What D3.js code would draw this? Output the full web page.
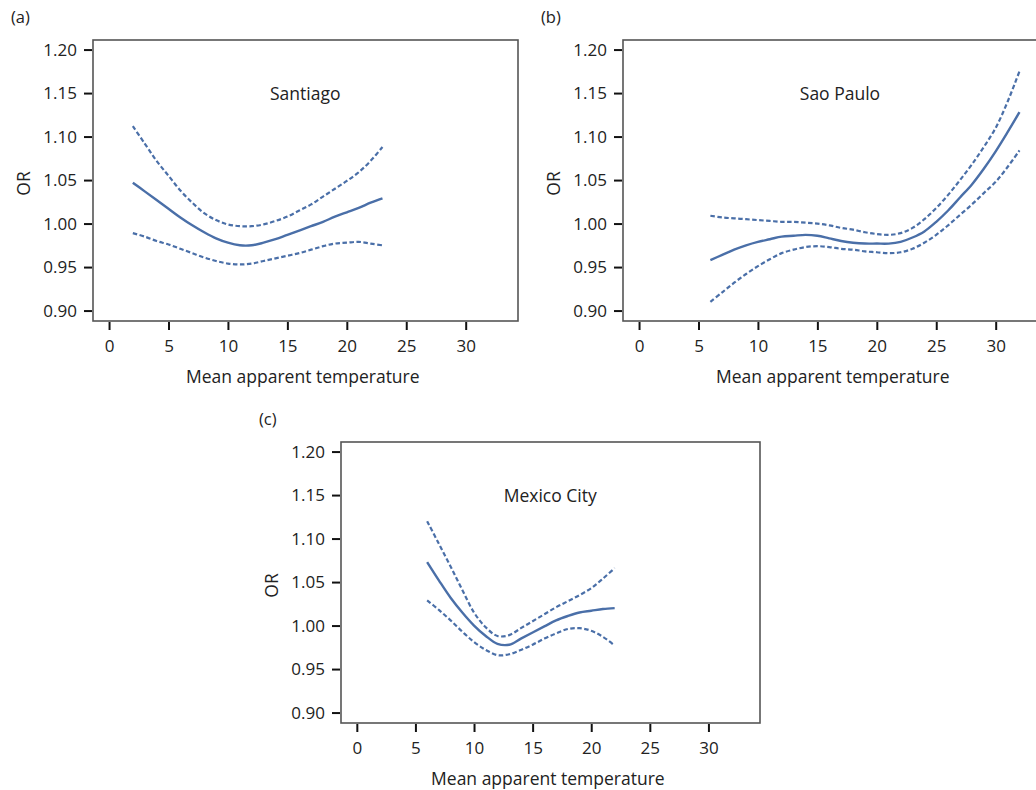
<!DOCTYPE html>
<html>
<head>
<meta charset="utf-8">
<script src="https://cdn.jsdelivr.net/npm/d3@7"></script>
<style>
  body { margin: 0; background: #fff; }
  svg text { font-family: "Open Sans", sans-serif; fill: #222; }
</style>
</head>
<body>
<div id="chart"></div>
<script>
// shared axis settings
const xTicks = [0, 5, 10, 15, 20, 25, 30];
const yTicks = [0.90, 0.95, 1.00, 1.05, 1.10, 1.15, 1.20];

// Santiago
const santiagoTemp = d3.range(2, 24);
const santiagoOR = [1.047, 1.037, 1.027, 1.017, 1.007, 0.998, 0.990, 0.983, 0.978, 0.975, 0.975,
  0.978, 0.982, 0.987, 0.992, 0.997, 1.002, 1.008, 1.013, 1.018, 1.024, 1.029];
const santiagoUpper = [1.112, 1.092, 1.072, 1.055, 1.038, 1.024, 1.012, 1.004, 0.999, 0.997, 0.997,
  0.999, 1.003, 1.008, 1.015, 1.022, 1.031, 1.040, 1.049, 1.059, 1.072, 1.088];
const santiagoLower = [0.989, 0.985, 0.980, 0.976, 0.971, 0.966, 0.961, 0.957, 0.954, 0.953, 0.954,
  0.957, 0.960, 0.963, 0.966, 0.970, 0.974, 0.977, 0.978, 0.979, 0.977, 0.975];

// Sao Paulo
const saoPauloTemp = d3.range(6, 33);
const saoPauloOR = [0.958, 0.964, 0.970, 0.975, 0.979, 0.982, 0.985, 0.986, 0.987, 0.986, 0.983,
  0.980, 0.978, 0.977, 0.977, 0.977, 0.979, 0.984, 0.991, 1.002, 1.015, 1.030, 1.045, 1.063,
  1.083, 1.105, 1.128];
const saoPauloUpper = [1.009, 1.007, 1.006, 1.005, 1.004, 1.003, 1.002, 1.002, 1.001, 1.000, 0.998,
  0.995, 0.993, 0.990, 0.988, 0.987, 0.989, 0.995, 1.005, 1.018, 1.033, 1.050, 1.068, 1.088,
  1.110, 1.140, 1.175];
const saoPauloLower = [0.910, 0.921, 0.932, 0.942, 0.951, 0.959, 0.966, 0.970, 0.973, 0.974, 0.973,
  0.971, 0.970, 0.968, 0.967, 0.966, 0.967, 0.971, 0.978, 0.987, 0.998, 1.010, 1.022, 1.035,
  1.048, 1.065, 1.084];

// Mexico City
const mexicoTemp = d3.range(6, 23);
const mexicoOR = [1.073, 1.052, 1.032, 1.015, 1.000, 0.988, 0.979, 0.978, 0.985, 0.992, 0.999,
  1.006, 1.011, 1.015, 1.017, 1.019, 1.020];
const mexicoUpper = [1.120, 1.094, 1.068, 1.041, 1.015, 0.998, 0.988, 0.989, 0.997, 1.005, 1.013,
  1.021, 1.028, 1.035, 1.043, 1.054, 1.066];
const mexicoLower = [1.029, 1.018, 1.006, 0.993, 0.981, 0.972, 0.966, 0.967, 0.972, 0.978, 0.985,
  0.991, 0.996, 0.997, 0.994, 0.987, 0.977];

const panels = [
  { tag: '(a)', city: 'Santiago', temp: santiagoTemp, or: santiagoOR, up: santiagoUpper, lo: santiagoLower,
    left: 93, top: 40, width: 425, height: 281 },
  { tag: '(b)', city: 'Sao Paulo', temp: saoPauloTemp, or: saoPauloOR, up: saoPauloUpper, lo: saoPauloLower,
    left: 623, top: 40, width: 425, height: 281 },
  { tag: '(c)', city: 'Mexico City', temp: mexicoTemp, or: mexicoOR, up: mexicoUpper, lo: mexicoLower,
    left: 341, top: 442, width: 419, height: 281 }
];

const blue = '#4a6fa8';

const svg = d3.select('#chart').append('svg')
  .attr('width', 1036)
  .attr('height', 790);

panels.forEach((p) => {
  const x = d3.scaleLinear().domain([-1.35, 34.4]).range([0, p.width]);
  const y = d3.scaleLinear().domain([0.888, 1.211]).range([p.height, 0]);

  const g = svg.append('g')
    .attr('transform', 'translate(' + p.left + ',' + p.top + ')');

  // frame
  g.append('rect')
    .attr('width', p.width)
    .attr('height', p.height)
    .attr('fill', 'none')
    .attr('stroke', '#555')
    .attr('stroke-width', 1.6);

  // y axis
  const yAxis = g.append('g')
    .attr('transform', 'translate(-1,0)')
    .call(d3.axisLeft(y).tickValues(yTicks).tickFormat(d3.format('.2f')).tickSize(8).tickPadding(7));
  yAxis.select('.domain').remove();
  yAxis.selectAll('line').attr('stroke', '#111').attr('stroke-width', 2);
  yAxis.selectAll('text').style('font-size', '17px').attr('fill', '#222');

  // x axis
  const xAxis = g.append('g')
    .attr('transform', 'translate(0,' + (p.height + 1) + ')')
    .call(d3.axisBottom(x).tickValues(xTicks).tickSize(8).tickPadding(10));
  xAxis.select('.domain').remove();
  xAxis.selectAll('line').attr('stroke', '#111').attr('stroke-width', 2);
  xAxis.selectAll('text').style('font-size', '17px').attr('fill', '#222');

  // labels
  g.append('text')
    .attr('x', x(16.3))
    .attr('y', p.height + 62)
    .attr('text-anchor', 'middle')
    .style('font-size', '17.5px')
    .text('Mean apparent temperature');

  g.append('text')
    .attr('transform', 'translate(' + -63 + ',' + (p.height / 2 + 3) + ') rotate(-90)')
    .attr('text-anchor', 'middle')
    .style('font-size', '17.5px')
    .text('OR');

  g.append('text')
    .attr('x', -82)
    .attr('y', -17)
    .style('font-size', '16.5px')
    .text(p.tag);

  g.append('text')
    .attr('x', p.city === 'Sao Paulo' ? x(16.9) : x(16.5))
    .attr('y', y(1.1425))
    .attr('text-anchor', 'middle')
    .style('font-size', '17.5px')
    .text(p.city);

  // curves
  const line = (vals) => d3.line()
    .x((d, i) => x(p.temp[i]))
    .y((d) => y(d))
    .curve(d3.curveCatmullRom.alpha(0.5))(vals);

  [p.up, p.lo].forEach((vals) => {
    g.append('path')
      .attr('d', line(vals))
      .attr('fill', 'none')
      .attr('stroke', blue)
      .attr('stroke-width', 2.2)
      .attr('stroke-dasharray', '4.5,2.5');
  });

  g.append('path')
    .attr('d', line(p.or))
    .attr('fill', 'none')
    .attr('stroke', blue)
    .attr('stroke-width', 2.4);
});
</script>
</body>
</html>
